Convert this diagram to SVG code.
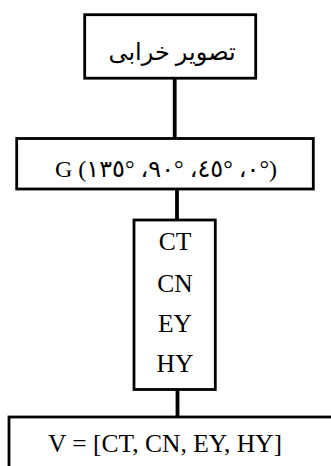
<svg xmlns="http://www.w3.org/2000/svg" width="331" height="466" viewBox="0 0 331 466">
  <style>
    .box { fill: #ffffff; stroke: #000000; stroke-width: 2.8; }
    .link { stroke: #000000; stroke-width: 3.8; fill: none; }
    .lbl { font-family: "Liberation Serif", "DejaVu Serif", serif; font-size: 25.5px; fill: #000000; text-anchor: middle; }
    .fa { font-family: "Liberation Serif", "DejaVu Sans", "Noto Sans", serif; font-size: 24px; fill: #000000; text-anchor: middle; }
  </style>
  <rect width="331" height="466" fill="#ffffff"/>
  <g id="connectors">
    <line class="link" x1="174.7" y1="78" x2="174.7" y2="139"/>
    <line class="link" x1="177" y1="189" x2="177" y2="220"/>
    <line class="link" x1="177.5" y1="389" x2="177.5" y2="417"/>
  </g>
  <g id="node-damage">
    <rect class="box" x="84.7" y="14.7" width="171" height="63.5"/>
    <text class="fa" x="172" y="60" direction="rtl">تصویر خرابی</text>
  </g>
  <g id="node-glcm">
    <rect class="box" x="16.7" y="138.5" width="296.6" height="50.5"/>
    <text class="fa" x="166" y="176.5" direction="ltr" unicode-bidi="bidi-override">G (١٣٥° ،٩٠° ،٤٥° ،٠°)</text>
  </g>
  <g id="node-features">
    <rect class="box" x="134" y="220" width="81.3" height="169.5"/>
    <text class="lbl" x="175" y="250">CT</text>
    <text class="lbl" x="175" y="291.5">CN</text>
    <text class="lbl" x="175" y="331.5">EY</text>
    <text class="lbl" x="175" y="371.5">HY</text>
  </g>
  <g id="node-vector">
    <rect class="box" x="9" y="417" width="340" height="80"/>
    <text class="lbl" x="165" y="451.5">V = [CT, CN, EY, HY]</text>
  </g>
</svg>
